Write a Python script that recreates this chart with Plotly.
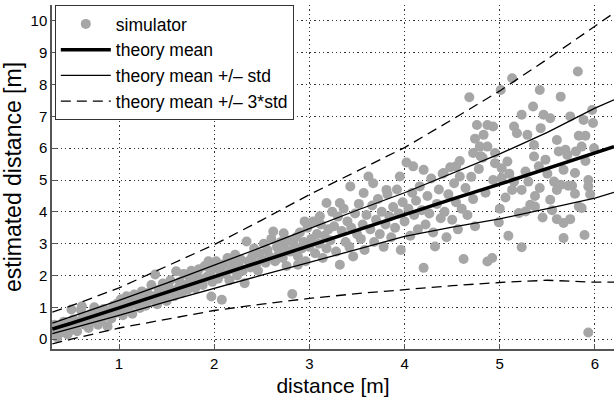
import plotly.graph_objects as go

# ---- simulator scatter ----
sim_x = [0.31,0.32,0.33,0.35,0.36,0.38,0.40,0.42,0.44,0.46,0.48,0.50,0.50,
         0.52,0.54,0.56,0.58,0.60,0.61,0.62,0.64,0.66,0.68,0.70,0.72,0.74,
         0.76,0.78,0.80,0.82,0.84,0.86,0.88,0.90,0.92,0.94,0.96,0.98,1.00,
         1.02,1.04,1.06,1.08,1.10,1.12,1.14,1.16,1.18,1.20,1.22,1.24,1.26,1.28,
         1.30,1.32,1.34,1.36,1.38,1.40,1.42,1.44,1.46,1.48,1.50,1.52,1.54,1.56,1.58,1.60,
         1.62,1.64,1.66,1.68,1.70,1.72,1.74,1.76,1.78,1.80,1.82,1.84,1.86,1.88,1.90,1.92,1.94,1.96,1.97,1.98,
         2.00,2.02,2.04,2.06,2.08,2.10,2.12,2.14,2.16,2.18,2.20,2.22,2.24,2.26,2.28,2.30,2.32,2.34,2.36,2.38,
         2.40,2.42,2.44,2.46,2.48,2.50,2.52,2.54,2.56,2.58,2.60,2.62,2.64,2.66,2.68,2.70,2.72,2.73,2.74,2.76,2.78,2.80,2.82,
         2.84,2.86,2.88,2.88,2.90,2.92,2.94,2.95,2.96,2.98,3.00,3.02,3.04,3.06,3.08,3.10,3.11,3.12,3.14,3.16,3.18,3.18,3.20,
         3.22,3.24,3.26,3.28,3.30,3.32,3.32,3.34,3.36,3.38,3.40,3.42,3.43,3.44,3.46,3.48,3.50,3.52,3.54,3.56,3.57,3.58,
         3.60,3.62,3.64,3.66,3.67,3.68,3.70,3.72,3.74,3.76,3.78,3.80,3.81,3.82,3.84,3.86,3.88,3.90,3.92,3.94,3.95,3.96,3.98,
         4.00,4.02,4.04,4.06,4.08,4.09,4.10,4.12,4.14,4.16,4.18,4.20,4.20,4.22,4.24,4.26,4.28,4.30,4.32,4.34,4.36,4.38,
         4.40,4.41,4.42,4.44,4.46,4.48,4.50,4.52,4.54,4.54,4.56,4.58,4.58,4.60,4.62,4.64,4.66,4.68,4.70,4.72,4.72,4.74,4.74,4.76,4.78,4.79,4.80,
         4.82,4.83,4.85,4.87,4.87,4.87,4.92,4.93,4.93,4.95,4.95,4.99,5.00,5.01,5.02,5.02,5.06,5.08,5.09,5.10,
         5.13,5.13,5.15,5.15,5.18,5.20,5.23,5.23,5.23,5.27,5.27,5.29,5.30,5.32,5.35,5.36,5.36,5.37,5.37,5.41,
         5.42,5.42,5.43,5.45,5.46,5.48,5.50,5.53,5.53,5.55,5.57,5.60,5.60,5.60,5.62,5.64,5.64,5.67,5.67,5.67,5.69,
         5.71,5.72,5.74,5.74,5.76,5.79,5.79,5.80,5.82,5.83,5.83,5.86,5.86,5.88,5.89,5.90,5.90,5.93,5.93,5.93,5.95,5.97,5.98,5.99]
sim_y = [0.32,0.45,0.18,0.05,0.28,0.40,0.22,0.55,0.35,0.15,0.48,0.30,0.93,
         0.62,0.40,0.25,0.55,0.92,1.03,0.70,0.45,0.60,0.35,0.78,0.55,1.00,
         0.70,0.45,0.85,0.62,0.95,0.75,0.40,0.88,0.65,1.05,0.82,1.12,0.90,
         1.25,0.75,1.05,1.35,0.95,1.15,0.80,1.40,1.10,1.25,0.98,1.50,1.20,1.05,
         1.45,1.22,1.70,1.35,2.03,1.10,1.55,1.30,1.75,1.42,1.20,1.65,1.85,1.50,1.35,2.13,
         1.60,1.80,1.45,2.05,1.70,1.55,1.95,2.15,1.75,1.60,2.00,2.20,1.85,1.70,2.30,1.95,2.45,2.10,1.34,1.80,
         2.25,2.45,1.90,2.15,1.24,2.35,2.05,2.55,1.85,2.20,2.40,2.65,2.00,2.30,2.50,2.15,1.76,3.07,2.45,2.25,
         2.60,2.85,2.35,2.15,2.70,2.50,3.00,2.40,2.80,2.60,3.15,3.38,2.45,2.90,2.70,3.05,2.55,3.33,2.85,2.30,3.10,2.75,1.42,
         2.95,3.20,2.60,2.34,3.35,2.85,3.05,3.70,2.45,3.50,2.90,3.15,3.70,2.70,3.30,3.00,3.86,3.60,2.55,3.25,2.85,4.28,3.45,
         3.10,4.00,3.55,2.75,3.85,2.34,4.28,3.40,4.10,3.05,3.70,2.90,4.80,3.50,2.60,3.95,3.30,4.25,3.15,3.60,4.59,2.80,
         3.90,5.11,3.45,4.20,4.90,3.05,3.75,4.40,3.30,4.00,2.90,3.60,4.69,4.55,3.85,3.20,4.15,3.50,4.70,3.95,5.11,2.80,4.30,
         3.70,5.55,4.10,3.25,4.60,5.43,3.90,4.35,3.45,4.80,4.05,2.24,5.32,3.60,4.50,3.95,5.05,3.35,2.91,4.25,4.70,3.80,
         5.20,5.22,4.00,3.20,4.55,5.40,3.75,4.90,4.30,5.43,3.45,5.60,5.11,4.10,2.52,4.75,3.90,7.60,5.10,4.40,5.85,3.55,6.30,6.73,5.35,6.05,5.75,
         5.70,6.42,4.60,6.73,6.05,2.44,2.55,6.68,5.00,5.53,5.85,3.67,4.10,7.83,5.06,5.37,4.45,5.58,3.25,5.20,
         8.20,4.69,6.68,4.95,6.47,3.96,7.05,2.89,4.69,5.27,4.01,6.42,4.95,4.22,7.31,6.10,5.74,4.17,4.50,5.43,
         7.83,4.75,6.63,3.82,7.05,5.64,5.20,6.94,4.38,4.05,4.95,6.26,4.69,3.77,5.90,7.62,4.85,5.32,3.65,3.18,5.95,
         5.79,4.82,7.00,3.77,4.82,5.22,4.57,5.90,8.41,6.39,4.17,6.05,4.12,6.89,3.27,6.39,5.60,5.00,4.80,0.21,4.55,7.20,6.79,6.00]

# ---- theory curves ----
line_x = [0.30, 0.50, 1.00, 1.50, 2.00, 2.50, 3.00, 3.50, 4.00, 4.50, 5.00, 5.50, 6.00, 6.20]
mean_y = [0.32, 0.50, 0.98, 1.47, 1.95, 2.45, 2.95, 3.43, 3.92, 4.40, 4.87, 5.36, 5.85, 6.05]
std_hi = [0.50, 0.70, 1.22, 1.76, 2.32, 2.89, 3.47, 4.05, 4.60, 5.20, 5.82, 6.50, 7.26, 7.52]
std_lo = [0.17, 0.33, 0.75, 1.18, 1.60, 2.01, 2.41, 2.83, 3.23, 3.52, 3.78, 4.10, 4.43, 4.61]
std3_hi = [0.85, 1.05, 1.61, 2.28, 2.97, 3.74, 4.54, 5.28, 6.02, 6.90, 7.80, 8.80, 9.82, 10.25]
std3_lo = [-0.15, 0.00, 0.35, 0.63, 0.90, 1.10, 1.28, 1.43, 1.56, 1.68, 1.78, 1.85, 1.79, 1.79]

x_ticks = [1, 2, 3, 4, 5, 6]
y_ticks = [0, 1, 2, 3, 4, 5, 6, 7, 8, 9, 10]

FONT = "Liberation Sans, Arial, Helvetica, sans-serif"
DASH = "10px,6px"

fig = go.Figure()
fig.add_trace(go.Scatter(x=sim_x, y=sim_y, mode="markers", name="simulator",
                         marker=dict(color="#a6a6a6", size=10, line=dict(width=0))))
fig.add_trace(go.Scatter(x=line_x, y=mean_y, mode="lines", name="theory mean",
                         line=dict(color="black", width=3.5)))
fig.add_trace(go.Scatter(x=line_x, y=std_hi, mode="lines", name="theory mean +/\u2013 std",
                         line=dict(color="black", width=1.3)))
fig.add_trace(go.Scatter(x=line_x, y=std_lo, mode="lines", showlegend=False,
                         line=dict(color="black", width=1.3)))
fig.add_trace(go.Scatter(x=line_x, y=std3_hi, mode="lines", name="theory mean +/\u2013 3*std",
                         line=dict(color="black", width=1.3, dash=DASH)))
fig.add_trace(go.Scatter(x=line_x, y=std3_lo, mode="lines", showlegend=False,
                         line=dict(color="black", width=1.3, dash=DASH)))

axis_common = dict(showgrid=True, gridcolor="#333", gridwidth=1, griddash="1.3px,3px",
                   zeroline=False, showline=True, linecolor="#555", linewidth=1.5,
                   ticks="inside", ticklen=5, tickcolor="#555", mirror=False,
                   automargin=False,
                   tickfont=dict(family=FONT, size=15, color="black"))

fig.update_layout(
    width=614, height=402,
    margin=dict(l=52, r=0, t=5, b=53),
    paper_bgcolor="white", plot_bgcolor="white",
    font=dict(family=FONT, color="black"),
    showlegend=True,
    legend=dict(x=0.005, y=1, xanchor="left", yanchor="top",
                bgcolor="white", bordercolor="#333", borderwidth=1,
                font=dict(family=FONT, size=17.5, color="black"),
                itemwidth=50, tracegroupgap=0),
    xaxis=dict(range=[0.296, 6.2], tickvals=x_ticks,
               title=dict(text="distance [m]", font=dict(family=FONT, size=21), standoff=8),
               **axis_common),
    yaxis=dict(range=[-0.31, 10.5], tickvals=y_ticks,
               title=dict(text="estimated distance [m]", font=dict(family=FONT, size=23), standoff=5),
               **axis_common),
)

fig.write_html("out.html", config={"displayModeBar": False},
               post_script="document.body.style.margin='0';")
